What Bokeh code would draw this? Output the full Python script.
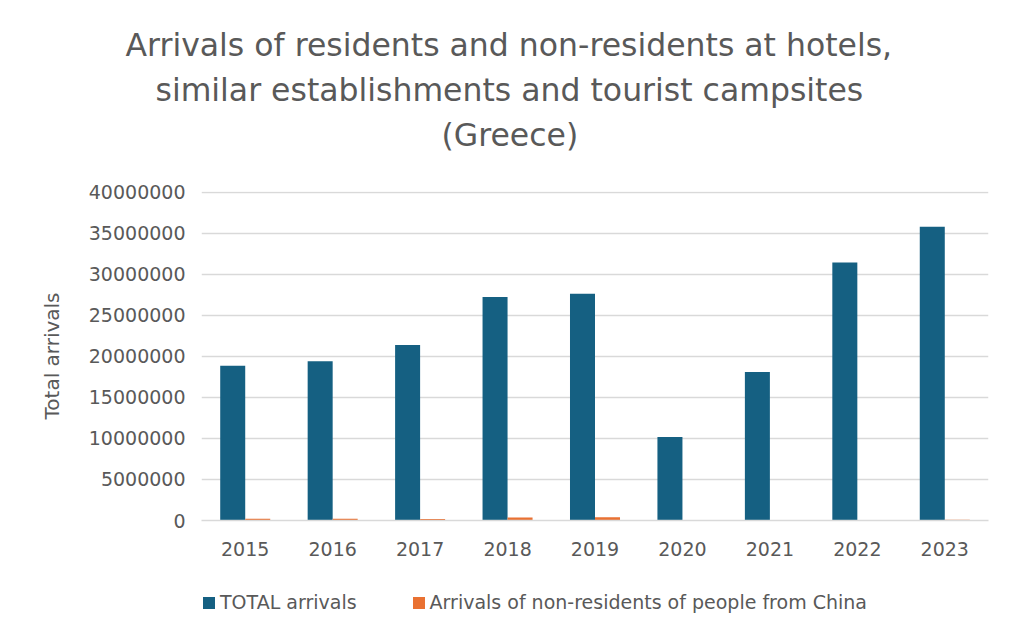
from bokeh.plotting import figure
from bokeh.layouts import column
from bokeh.models import (Legend, LegendItem, Title, FixedTicker, NumeralTickFormatter,
                          ColumnDataSource, FactorRange, Range1d)
from bokeh.transform import dodge
from bokeh.embed import file_html
from bokeh.resources import INLINE

years = ["2015", "2016", "2017", "2018", "2019", "2020", "2021", "2022", "2023"]
total_arrivals = [18850000, 19390000, 21390000, 27240000, 27610000,
                  10170000, 18100000, 31430000, 35780000]
china_arrivals = [200000, 205000, 190000, 380000, 390000, 15000, 20000, 40000, 90000]
y_ticks = [0, 5000000, 10000000, 15000000, 20000000, 25000000, 30000000, 35000000, 40000000]
title_lines = ["Arrivals of residents and non-residents at hotels,",
               "similar establishments and tourist campsites",
               "(Greece)"]
series_names = ["TOTAL arrivals", "Arrivals of non-residents of people from China"]

TEXT = "#595959"
GRID = "#D9D9D9"
BLUE = "#156082"
ORANGE = "#E97132"
FONT = "DejaVu Sans"

src = ColumnDataSource(data=dict(year=years, total=total_arrivals, china=china_arrivals))

p = figure(x_range=FactorRange(*years), y_range=Range1d(0, 40080000),
           frame_width=787, frame_height=329,
           min_border_left=201, min_border_right=28, min_border_top=191, min_border_bottom=60,
           output_backend="svg", toolbar_location=None, title=None)

r1 = p.vbar(x=dodge("year", -0.143, range=p.x_range), top="total", width=0.286,
            source=src, fill_color=BLUE, line_color=None)
r2 = p.vbar(x=dodge("year", 0.143, range=p.x_range), top="china", width=0.286,
            source=src, fill_color=ORANGE, line_color=None)

# spacer between the title block and the plot area
p.add_layout(Title(text=" ", text_font_size="10px", standoff=22), "above")
# titles (added bottom line first so it sits nearest the plot)
title_offsets = [-76, -46, 240]
for line, off in zip(reversed(title_lines), reversed(title_offsets)):
    t = Title(text=line, align="left", offset=off, text_font=FONT,
              text_font_size="31.5px", text_font_style="normal",
              text_color=TEXT, standoff=7)
    p.add_layout(t, "above")

p.outline_line_color = None
p.background_fill_color = "white"
p.border_fill_color = "white"

p.xgrid.grid_line_color = None
p.ygrid.grid_line_color = GRID
p.ygrid.grid_line_width = 1.3

p.yaxis.ticker = FixedTicker(ticks=y_ticks)
p.yaxis.formatter = NumeralTickFormatter(format="0")
p.yaxis.axis_line_color = None
p.yaxis.major_tick_line_color = None
p.yaxis.minor_tick_line_color = None
p.yaxis.major_label_text_font = FONT
p.yaxis.major_label_text_font_size = "19px"
p.yaxis.major_label_text_color = TEXT
p.yaxis.major_label_standoff = 10
p.yaxis.axis_label = "Total arrivals"
p.yaxis.axis_label_text_font = FONT
p.yaxis.axis_label_text_font_size = "20px"
p.yaxis.axis_label_text_font_style = "normal"
p.yaxis.axis_label_text_color = TEXT
p.yaxis.axis_label_standoff = 22

p.xaxis.axis_line_color = GRID
p.xaxis.axis_line_width = 1.5
p.xaxis.major_tick_line_color = None
p.xaxis.minor_tick_line_color = None
p.xaxis.major_label_text_font = FONT
p.xaxis.major_label_text_font_size = "19px"
p.xaxis.major_label_text_color = TEXT
p.xaxis.major_label_standoff = 15

# legend strip below the chart (same series, drawn out of view so only the key shows)
lg = figure(x_range=p.x_range, y_range=Range1d(1e12, 2e12),
            frame_width=787, frame_height=62,
            min_border_left=201, min_border_right=28, min_border_top=0, min_border_bottom=0,
            x_axis_location=None, y_axis_location=None,
            output_backend="svg", toolbar_location=None)
lg.grid.grid_line_color = None
lg.outline_line_color = None
lg.background_fill_color = "white"
lg.border_fill_color = "white"
k1 = lg.vbar(x=dodge("year", -0.143, range=lg.x_range), top="total", width=0.286,
             source=src, fill_color=BLUE, line_color=None)
k2 = lg.vbar(x=dodge("year", 0.143, range=lg.x_range), top="china", width=0.286,
             source=src, fill_color=ORANGE, line_color=None)
legend = Legend(items=[LegendItem(label=series_names[0], renderers=[k1]),
                       LegendItem(label=series_names[1], renderers=[k2])],
                orientation="horizontal", location=(0, 29),
                glyph_width=15, glyph_height=15, label_text_font=FONT,
                label_text_font_size="19px", label_text_color=TEXT,
                spacing=54, padding=0, margin=0, border_line_color=None,
                background_fill_alpha=0, label_standoff=4)
lg.add_layout(legend, "center")

layout = column(p, lg, spacing=0)
open("out.html", "w").write(file_html(layout, INLINE))
